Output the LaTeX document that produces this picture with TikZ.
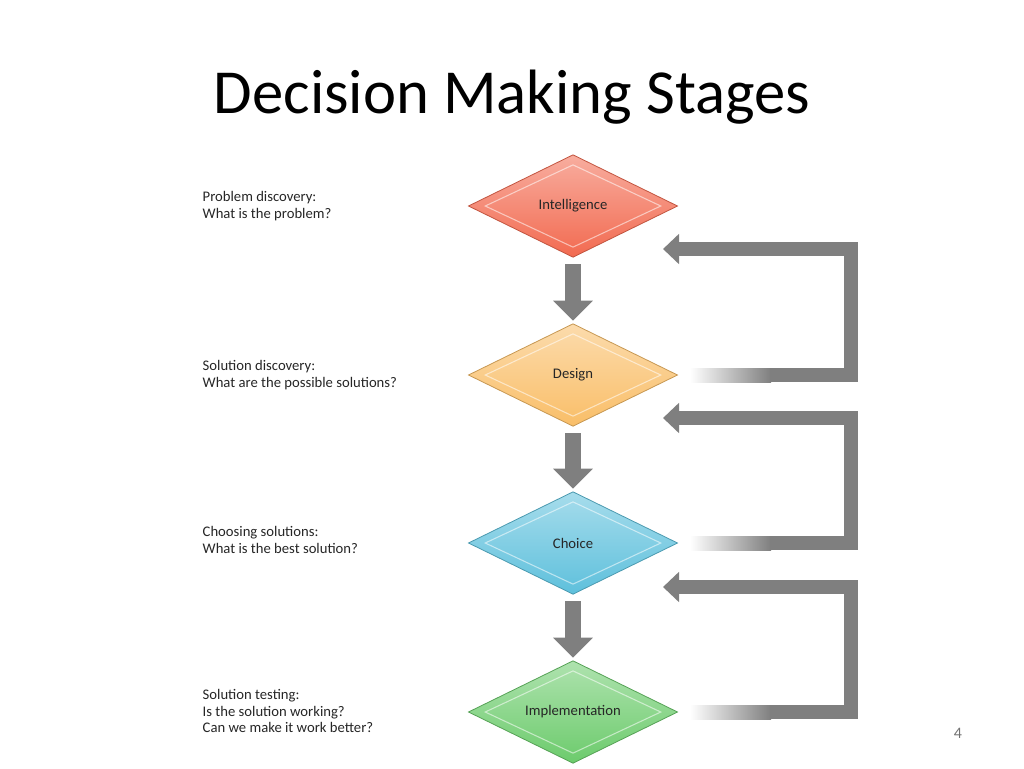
\documentclass[tikz,border=0pt]{standalone}
\usepackage{fontspec}
\setmainfont{Carlito}
\usetikzlibrary{shapes.geometric, arrows.meta, positioning}

\definecolor{intelColor}{HTML}{F26A50}
\definecolor{designColor}{HTML}{F9BE68}
\definecolor{choiceColor}{HTML}{5EC0DC}
\definecolor{implColor}{HTML}{6CCB6C}
\definecolor{loopGray}{HTML}{7F7F7F}

\tikzset{
	stage/.style={diamond, aspect=2, inner sep=0pt, minimum width=157pt, minimum height=77pt,
		draw=#1!80!black, line width=0.6pt, top color=#1!55!white, bottom color=#1,
		font=\fontsize{11}{13}\selectfont, text=black!85},
	bevel/.style={diamond, aspect=2, inner sep=0pt, minimum width=132pt, minimum height=62pt,
		draw=white, opacity=0.55, line width=0.8pt},
	question/.style={anchor=west, align=left, font=\fontsize{11}{12.5}\selectfont, text=black!85},
	down/.style={draw=loopGray, line width=12pt, -{Triangle[width=29pt,length=15pt]}, shorten <=5pt, shorten >=2pt},
	loop/.style={draw=loopGray, line width=10.5pt, -{Triangle[width=22pt,length=12pt]}}
}

\begin{document}
\begin{tikzpicture}[x=0.75pt, y=-0.75pt]
	\useasboundingbox (0,0) rectangle (1024,768);

	\node[font=\fontsize{47}{56}\selectfont] (title) at (512,97) {Decision Making Stages};

	% stages
	\node[stage=intelColor] (intel) at (573,206) {Intelligence};
	\node[stage=designColor] (design) at (573,375) {Design};
	\node[stage=choiceColor] (choice) at (573,543) {Choice};
	\node[stage=implColor] (impl) at (573,712) {Implementation};
	\foreach \s in {intel, design, choice, impl}
		\node[bevel] at (\s.center) {};

	% questions
	\node[question] (q1) at (198,206) {Problem discovery:\\What is the problem?};
	\node[question] (q2) at (198,375) {Solution discovery:\\What are the possible solutions?};
	\node[question] (q3) at (198,540) {Choosing solutions:\\What is the best solution?};
	\node[question] (q4) at (198,711) {Solution testing:\\Is the solution working?\\Can we make it work better?};

	% forward arrows
	\draw[down] (intel.south) -- (design.north);
	\draw[down] (design.south) -- (choice.north);
	\draw[down] (choice.south) -- (impl.north);

	% feedback loops
	\foreach \from/\to/\yb/\yt in {design/intel/375/249, choice/design/543/418, impl/choice/712/587} {
		\coordinate (fade-\from) at (690,\yb);
		\coordinate (mid-\from) at (770,\yb);
		\coordinate (tip-\to) at (663,\yt);
		\shade[left color=white, right color=loopGray] (690,\yb-7) rectangle (771,\yb+7);
		\draw[loop] (mid-\from) -- (851,\yb) -- (851,\yt) -- (tip-\to);
	}

	\node[font=\fontsize{12}{14}\selectfont, text=black!55] (page) at (958,733) {4};
\end{tikzpicture}
\end{document}
